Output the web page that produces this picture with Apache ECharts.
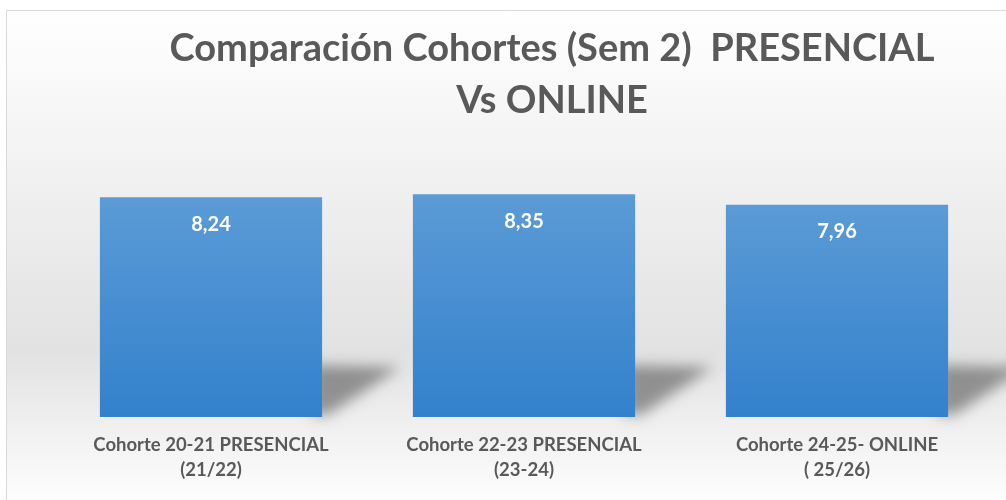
<!DOCTYPE html>
<html>
<head>
<meta charset="utf-8">
<script src="https://cdn.jsdelivr.net/npm/echarts@6/dist/echarts.min.js"></script>
<style>
  html, body { margin: 0; padding: 0; background: #ffffff; }
  #chart { width: 1006px; height: 500px; }
</style>
</head>
<body>
<div id="chart"></div>
<script>
// datos del grafico
var categorias = ['Cohorte 20-21 PRESENCIAL\n(21/22)', 'Cohorte 22-23 PRESENCIAL\n(23-24)', 'Cohorte 24-25- ONLINE\n( 25/26)'];
var notas = [8.24, 8.35, 7.96];
var titulo = 'Comparación Cohortes (Sem 2)  PRESENCIAL\nVs ONLINE';

var fuente = "Lato, 'Open Sans', sans-serif";

function drowChart() {
	var myChart = echarts.init(document.getElementById('chart'));

	var datosSombra = notas.map(function (v, i) { return [i, v]; });

	var option = {
		animation: false,
		title: {
			text: titulo,
			left: 547,
			top: 18,
			textAlign: 'center',
			textStyle: {
				fontFamily: fuente,
				fontSize: 38,
				fontWeight: 'bold',
				color: '#595959',
				lineHeight: 52
			}
		},
		graphic: [{
			type: 'rect',
			z: -100,
			silent: true,
			shape: { x: 6.5, y: 10.5, width: 1010, height: 500 },
			style: {
				stroke: '#d9d9d9',
				lineWidth: 1,
				fill: new echarts.graphic.LinearGradient(0, 0, 0, 1, [
					{ offset: 0, color: '#ffffff' },
					{ offset: 0.68, color: '#e2e2e2' },
					{ offset: 1, color: '#ffffff' }
				])
			}
		}],
		grid: {
			left: 54.5,
			right: 12.5,
			top: 177,
			bottom: 83
		},
		xAxis: {
			type: 'category',
			data: categorias,
			axisLine: { show: false },
			axisTick: { show: false },
			axisLabel: {
				interval: 0,
				margin: 16,
				fontFamily: fuente,
				fontSize: 18.5,
				fontWeight: 'bold',
				color: '#595959',
				lineHeight: 25
			}
		},
		yAxis: {
			type: 'value',
			min: 0,
			max: 9,
			show: false,
			splitLine: { show: false }
		},
		series: [
			{
				// sombra proyectada a la derecha de cada barra
				type: 'custom',
				z: 1,
				silent: true,
				data: datosSombra,
				encode: { x: 0, y: 1 },
				renderItem: function (params, api) {
					var base = api.coord([api.value(0), 0]);
					var mitad = api.size([1, 0])[0] * 0.71 / 2;
					var xr = base[0] + mitad;
					var y0 = base[1];
					var off = 3000;
					return {
						type: 'polygon',
						shape: {
							points: [
								[xr - 10 - off, y0 - 52],
								[xr + 78 - off, y0 - 50],
								[xr + 6 - off, y0 - 2],
								[xr - 10 - off, y0 - 2]
							]
						},
						style: {
							fill: '#000',
							shadowBlur: 14,
							shadowColor: 'rgba(0,0,0,0.38)',
							shadowOffsetX: off
						}
					};
				}
			},
			{
				type: 'bar',
				z: 2,
				data: notas,
				barWidth: '71%',
				itemStyle: {
					color: new echarts.graphic.LinearGradient(0, 0, 0, 1, [
						{ offset: 0, color: '#5b9bd6' },
						{ offset: 1, color: '#3381cc' }
					])
				},
				label: {
					show: true,
					position: 'insideTop',
					distance: 17,
					fontFamily: fuente,
					fontSize: 20,
					fontWeight: 'bold',
					color: '#ffffff',
					formatter: function (p) {
						return p.value.toFixed(2).replace('.', ',');
					}
				}
			}
		]
	};

	myChart.setOption(option);
	window.addEventListener('resize', function () {
		myChart.resize();
	});
}

drowChart();
</script>
</body>
</html>
